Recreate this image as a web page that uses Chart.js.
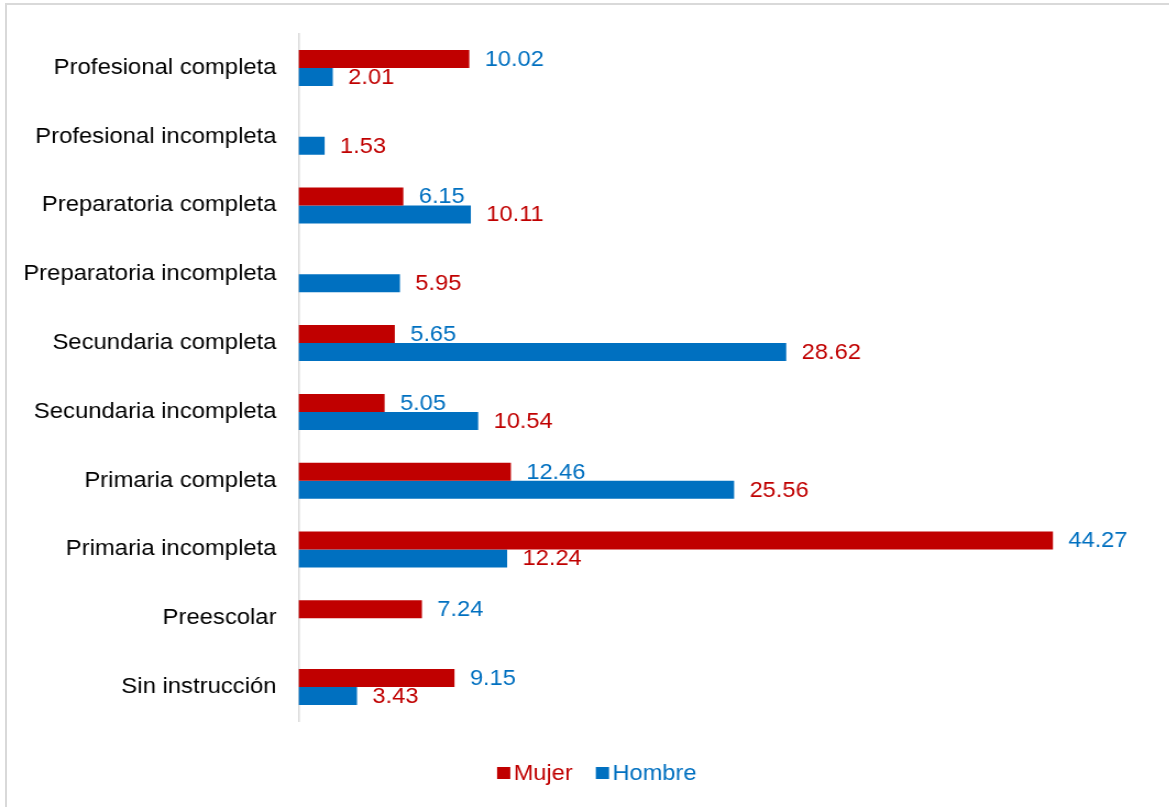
<!DOCTYPE html>
<html>
<head>
<meta charset="utf-8">
<script src="https://cdn.jsdelivr.net/npm/chart.js@4"></script>
<style>
  html, body { margin: 0; padding: 0; background: #fff; overflow: hidden; }
  #frame {
    position: absolute; left: 5px; top: 3px; width: 2000px; height: 2000px;
    border-left: 2px solid #d9d9d9; border-top: 2px solid #d9d9d9;
  }
  /* the chart is laid out narrow and widened a little */
  #grafica {
    position: absolute; left: 0; top: 0;
    transform: scaleX(1.1); transform-origin: 0 0;
  }
</style>
</head>
<body>
<div id="frame"></div>
<canvas id="grafica" width="1063" height="807"></canvas>
<script>
/*==================== Nivel de instrucción por sexo ====================*/
const categorias = ["Profesional completa", "Profesional incompleta", "Preparatoria completa",
    "Preparatoria incompleta", "Secundaria completa", "Secundaria incompleta",
    "Primaria completa", "Primaria incompleta", "Preescolar", "Sin instrucción"];
const mujer  = [10.02, null, 6.15, null, 5.65, 5.05, 12.46, 44.27, 7.24, 9.15];
const hombre = [2.01, 1.53, 10.11, 5.95, 28.62, 10.54, 25.56, 12.24, null, 3.43];

const ROJO = "#C00000";
const AZUL = "#0070C0";
const FUENTE = '"Liberation Sans", Arial, Helvetica, sans-serif';

Chart.defaults.font.family = FUENTE;

// etiquetas de valor a la derecha de cada barra (debajo de las barras)
const etiquetas = {
    id: 'etiquetas',
    beforeDatasetsDraw(chart) {
        const ctx = chart.ctx;
        ctx.save();
        ctx.font = '21.5px ' + FUENTE;
        ctx.textAlign = 'left';
        ctx.textBaseline = 'middle';
        chart.data.datasets.forEach((ds, i) => {
            chart.getDatasetMeta(i).data.forEach((barra, j) => {
                const v = ds.data[j];
                if (v == null) return;
                ctx.fillStyle = ds.colorEtiqueta;
                ctx.fillText(v.toFixed(2), barra.x + 14, barra.y + 1);
            });
        });
        ctx.restore();
    }
};

// leyenda abajo: cuadro de color pegado al texto, texto del color de la serie
const leyenda = {
    id: 'leyenda',
    afterDraw(chart) {
        const ctx = chart.ctx;
        const caja = 12, hueco = 3, sep = 21;
        ctx.save();
        ctx.font = '21.5px ' + FUENTE;
        ctx.textAlign = 'left';
        ctx.textBaseline = 'middle';
        const items = chart.data.datasets.map(ds => ({
            texto: ds.label,
            color: ds.backgroundColor,
            ancho: ctx.measureText(ds.label).width
        }));
        const total = items.reduce((s, it) => s + caja + hueco + it.ancho, 0) + sep * (items.length - 1);
        let x = chart.width / 2 + 11 - total / 2;
        const y = chart.chartArea.bottom + 51.5;
        items.forEach(it => {
            ctx.fillStyle = it.color;
            ctx.fillRect(x, y - 6, caja, caja);
            ctx.fillText(it.texto, x + caja + hueco, y + 1);
            x += caja + hueco + it.ancho + sep;
        });
        ctx.restore();
    }
};

const grafica = new Chart(document.getElementById("grafica"), {
    type: 'bar',
    data: {
        labels: categorias,
        datasets: [{
            label: "Mujer",
            data: mujer,
            backgroundColor: ROJO,
            colorEtiqueta: AZUL,
            borderWidth: 0
        }, {
            label: "Hombre",
            data: hombre,
            backgroundColor: AZUL,
            colorEtiqueta: ROJO,
            borderWidth: 0
        }]
    },
    options: {
        indexAxis: 'y',
        responsive: false,
        animation: false,
        categoryPercentage: 0.523,
        barPercentage: 1,
        layout: {
            padding: { top: 33.5, right: 17, bottom: 85.5, left: 0 }
        },
        scales: {
            x: {
                min: 0,
                max: 50,
                ticks: { display: false },
                grid: { display: false },
                border: { display: false },
                afterFit(scale) { scale.height = 0; }
            },
            y: {
                grid: { display: false, drawTicks: false },
                border: { display: true, color: '#d9d9d9', width: 1.5 },
                ticks: {
                    color: '#000',
                    padding: 20,
                    font: { size: 21.7 }
                },
                afterFit(scale) { scale.width = 271.4; }
            }
        },
        plugins: {
            tooltip: { enabled: false },
            legend: { display: false }
        }
    },
    plugins: [etiquetas, leyenda]
});
</script>
</body>
</html>
